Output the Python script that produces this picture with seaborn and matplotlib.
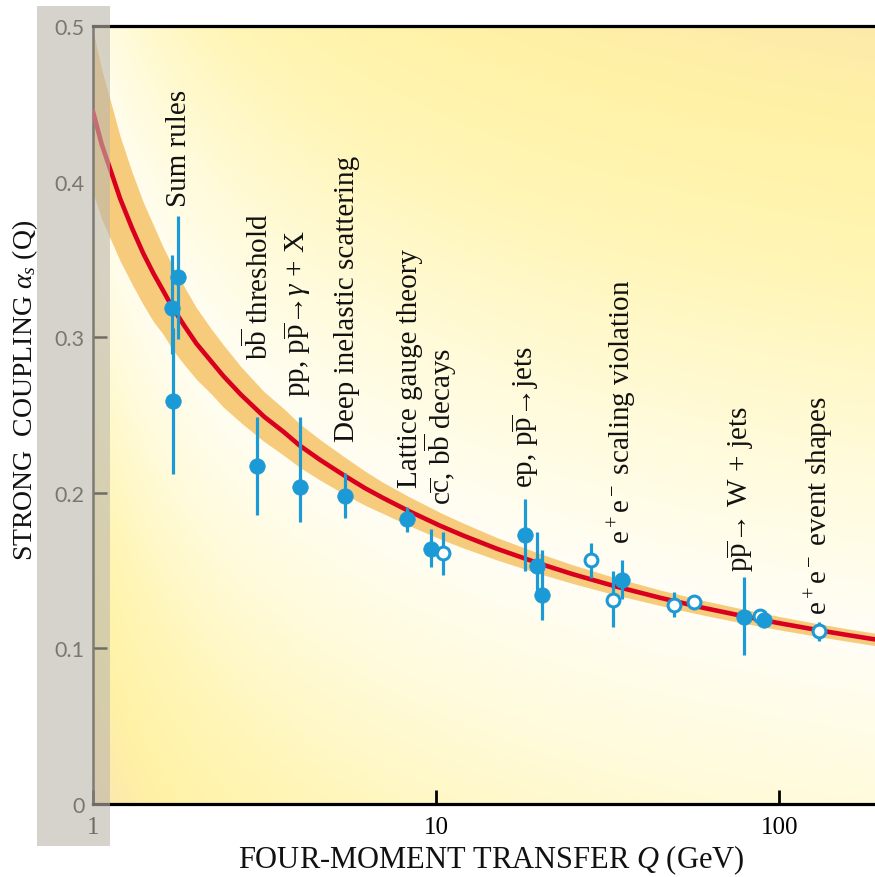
import numpy as np
import matplotlib
matplotlib.use("Agg")
import matplotlib.pyplot as plt
from matplotlib.patches import Rectangle
from matplotlib.colors import LinearSegmentedColormap
import seaborn as sns

# ---------------- data ----------------
# QCD running coupling curve
curve_q = [1.0, 1.06, 1.13, 1.2, 1.3, 1.4, 1.5, 1.6, 1.7, 1.85, 2.0, 2.2, 2.4,
           2.7, 3.15, 3.6, 4.0, 4.6, 5.4, 6.2, 7.0, 8.3, 10.3, 12.0, 15.0,
           20.0, 25.0, 33.0, 45.0, 60.0, 79.0, 100.0, 130.0, 160.0, 200.0]
curve_alpha = [0.445, 0.424, 0.406, 0.389, 0.370, 0.354, 0.341, 0.330, 0.3195,
               0.307, 0.296, 0.285, 0.275, 0.263, 0.249, 0.239, 0.2304,
               0.221, 0.2111, 0.203, 0.1967, 0.1884, 0.1787, 0.1725, 0.1641,
               0.1545, 0.1477, 0.1401, 0.1325, 0.1261, 0.1206, 0.1162, 0.1117,
               0.1084, 0.1050]
band_upper = [0.497, 0.472, 0.450, 0.429, 0.406, 0.387, 0.372, 0.358, 0.3465,
              0.332, 0.319, 0.306, 0.295, 0.281, 0.265, 0.254, 0.2444,
              0.234, 0.2231, 0.214, 0.2067, 0.1977, 0.1872, 0.1805, 0.1713,
              0.1610, 0.1537, 0.1456, 0.1375, 0.1308, 0.1251, 0.1205, 0.1158,
              0.1124, 0.1090]
band_lower = [0.393, 0.376, 0.362, 0.349, 0.334, 0.321, 0.310, 0.302, 0.2925,
              0.282, 0.273, 0.264, 0.255, 0.245, 0.233, 0.224, 0.2164,
              0.208, 0.1991, 0.192, 0.1867, 0.1791, 0.1702, 0.1645, 0.1569,
              0.1480, 0.1417, 0.1346, 0.1275, 0.1214, 0.1161, 0.1119, 0.1076,
              0.1044, 0.1010]

# measurements
meas_q = [1.70, 1.71, 1.77, 3.0, 4.0, 5.43, 8.23, 9.67, 10.5, 18.1, 19.7, 20.4,
          28.3, 32.8, 34.9, 49.4, 56.5, 79.1, 88.1, 90.4, 130.8]
meas_alpha = [0.319, 0.259, 0.339, 0.217, 0.204, 0.198, 0.183, 0.164, 0.161,
              0.173, 0.153, 0.134, 0.157, 0.131, 0.144, 0.128, 0.130, 0.120,
              0.121, 0.118, 0.111]
meas_err_lo = [0.030, 0.047, 0.040, 0.031, 0.023, 0.014, 0.008, 0.012, 0.014,
               0.023, 0.020, 0.016, 0.012, 0.017, 0.012, 0.008, 0.0, 0.024,
               0.0, 0.0, 0.006]
meas_err_hi = [0.034, 0.047, 0.039, 0.032, 0.045, 0.015, 0.008, 0.013, 0.014,
               0.023, 0.022, 0.029, 0.011, 0.019, 0.013, 0.008, 0.0, 0.026,
               0.0, 0.0, 0.006]
meas_filled = [True, True, True, True, True, True, True, True, False,
               True, True, True, False, False, True, False, False, True,
               False, True, False]

# annotations: text, Q position, alpha at start of text
label_text = ["Sum rules",
              r"b$\overline{\rm b}$ threshold",
              r"pp, p$\overline{\rm p}$→$\gamma$ + X",
              "Deep inelastic scattering",
              "Lattice gauge theory",
              r"c$\overline{\rm c}$, b$\overline{\rm b}$ decays",
              r"ep, p$\overline{\rm p}$→jets",
              r"e$^+$e$^-$ scaling violation",
              r"p$\overline{\rm p}$→ W + jets",
              r"e$^+$e$^-$ event shapes"]
label_q = [1.78, 3.03, 3.93, 5.5, 8.37, 10.3, 18.2, 35.0, 77.1, 130.8]
label_alpha = [0.384, 0.286, 0.262, 0.233, 0.204, 0.193, 0.204, 0.168, 0.150, 0.122]

x_ticks = [1, 10, 100]
x_tick_labels = ["1", "10", "100"]
y_ticks = [0, 0.1, 0.2, 0.3, 0.4, 0.5]
y_tick_labels = ["0", "0.1", "0.2", "0.3", "0.4", "0.5"]

# ---------------- style ----------------
sns.set_style("white")
plt.rcParams["font.family"] = ["Liberation Serif", "DejaVu Serif"]
plt.rcParams["mathtext.fontset"] = "custom"
plt.rcParams["mathtext.rm"] = "Liberation Serif"
plt.rcParams["mathtext.it"] = "Liberation Serif:italic"
plt.rcParams["mathtext.bf"] = "Liberation Serif:bold"

BLUE = "#1C9AD6"
RED = "#D8001E"
BAND = "#F6CC7C"

W, H = 875, 878
fig = plt.figure(figsize=(W / 100, H / 100), dpi=100)
fig.patch.set_facecolor("white")
ax_left, ax_right, ax_top, ax_bottom = 93, 875, 27, 805
ax = fig.add_axes([ax_left / W, (H - ax_bottom) / H,
                   (ax_right - ax_left) / W, (ax_bottom - ax_top) / H])
ax.set_xscale("log")
XMAX = 190.0
ax.set_xlim(1, XMAX)
ax.set_ylim(0, 0.5)

# background gradient, based on distance to the curve (axes coords)
nu, nv = 300, 300
u = np.linspace(0, 1, nu)
v = np.linspace(0, 1, nv)
uc = np.log10(np.array(curve_q)) / np.log10(XMAX)
vc = np.array(curve_alpha) / 0.5
v_curve = np.interp(u, uc, vc)
UU, VV = np.meshgrid(u, v)
d = np.abs(VV - v_curve[None, :])
cmap = LinearSegmentedColormap.from_list(
    "bg", [(0.0, "#FFFEF6"), (0.22, "#FFFBDC"), (0.5, "#FFF5B4"),
           (0.7, "#FFF2A6"), (0.85, "#FDE9AC"), (1.0, "#F9E0B4")])
ax.imshow(d, cmap=cmap, vmin=0, vmax=0.95, origin="lower", aspect="auto",
          extent=[0, 1, 0, 1], transform=ax.transAxes, zorder=0,
          interpolation="bilinear")
ax.set_xlim(1, XMAX)
ax.set_ylim(0, 0.5)

# band + curve
ax.fill_between(curve_q, band_lower, band_upper, color=BAND, lw=0, zorder=2)
sns.lineplot(x=curve_q, y=curve_alpha, color=RED, lw=3.3, ax=ax, zorder=3,
             sort=False, estimator=None)

# error bars
ax.errorbar(meas_q, meas_alpha, yerr=[meas_err_lo, meas_err_hi], fmt="none",
            ecolor=BLUE, elinewidth=2.3, capsize=0, zorder=4)

q_open = [q for q, f in zip(meas_q, meas_filled) if not f]
a_open = [a for a, f in zip(meas_alpha, meas_filled) if not f]
q_fill = [q for q, f in zip(meas_q, meas_filled) if f]
a_fill = [a for a, f in zip(meas_alpha, meas_filled) if f]
sns.scatterplot(x=q_open, y=a_open, s=85, color="white", edgecolor=BLUE,
                linewidth=2.2, ax=ax, zorder=5)
sns.scatterplot(x=q_fill, y=a_fill, s=125, color=BLUE, edgecolor=BLUE,
                linewidth=0.5, ax=ax, zorder=6)

for t, q, a in zip(label_text, label_q, label_alpha):
    ax.text(q, a, t, rotation=90, ha="center", va="bottom", fontsize=21,
            color="#111111", zorder=7)

# axes styling
ax.spines["right"].set_visible(False)
ax.spines["top"].set_color("black")
ax.spines["top"].set_linewidth(2.3)
ax.spines["bottom"].set_color("black")
ax.spines["bottom"].set_linewidth(2.3)
ax.spines["left"].set_color("#222222")
ax.spines["left"].set_linewidth(1.8)

ax.set_xticks(x_ticks)
ax.set_xticklabels(x_tick_labels)
ax.xaxis.set_minor_locator(matplotlib.ticker.NullLocator())
ax.set_yticks(y_ticks)
ax.set_yticklabels(y_tick_labels)
ax.tick_params(axis="x", direction="in", length=10, width=2, pad=9,
               labelsize=18, colors="black", bottom=True, top=False)
ax.tick_params(axis="y", direction="in", length=10, width=1.8, pad=6,
               labelsize=15.5, left=True, colors="black")
for lab in ax.get_yticklabels():
    lab.set_fontfamily(["Lato", "DejaVu Sans"])
    lab.set_color("#1a1a1a")
ax.set_xlabel("")
ax.set_ylabel("")

fig.text(491 / W, (H - 860) / H, r"FOUR-MOMENT TRANSFER $Q$ (GeV)",
         ha="center", va="center", fontsize=22, color="#111111")
fig.text(25 / W, (H - 390) / H, r"STRONG  COUPLING $\alpha_s$ (Q)",
         rotation=90, ha="center", va="center", fontsize=20, color="#111111")

# translucent grey strip on the left
fig.add_artist(Rectangle((37 / W, (H - 847) / H), (110 - 37) / W, (847 - 7) / H,
                         transform=fig.transFigure, facecolor="#BBB6AC",
                         alpha=0.6, edgecolor="none", zorder=10))

fig.savefig("out.png", dpi=100)
